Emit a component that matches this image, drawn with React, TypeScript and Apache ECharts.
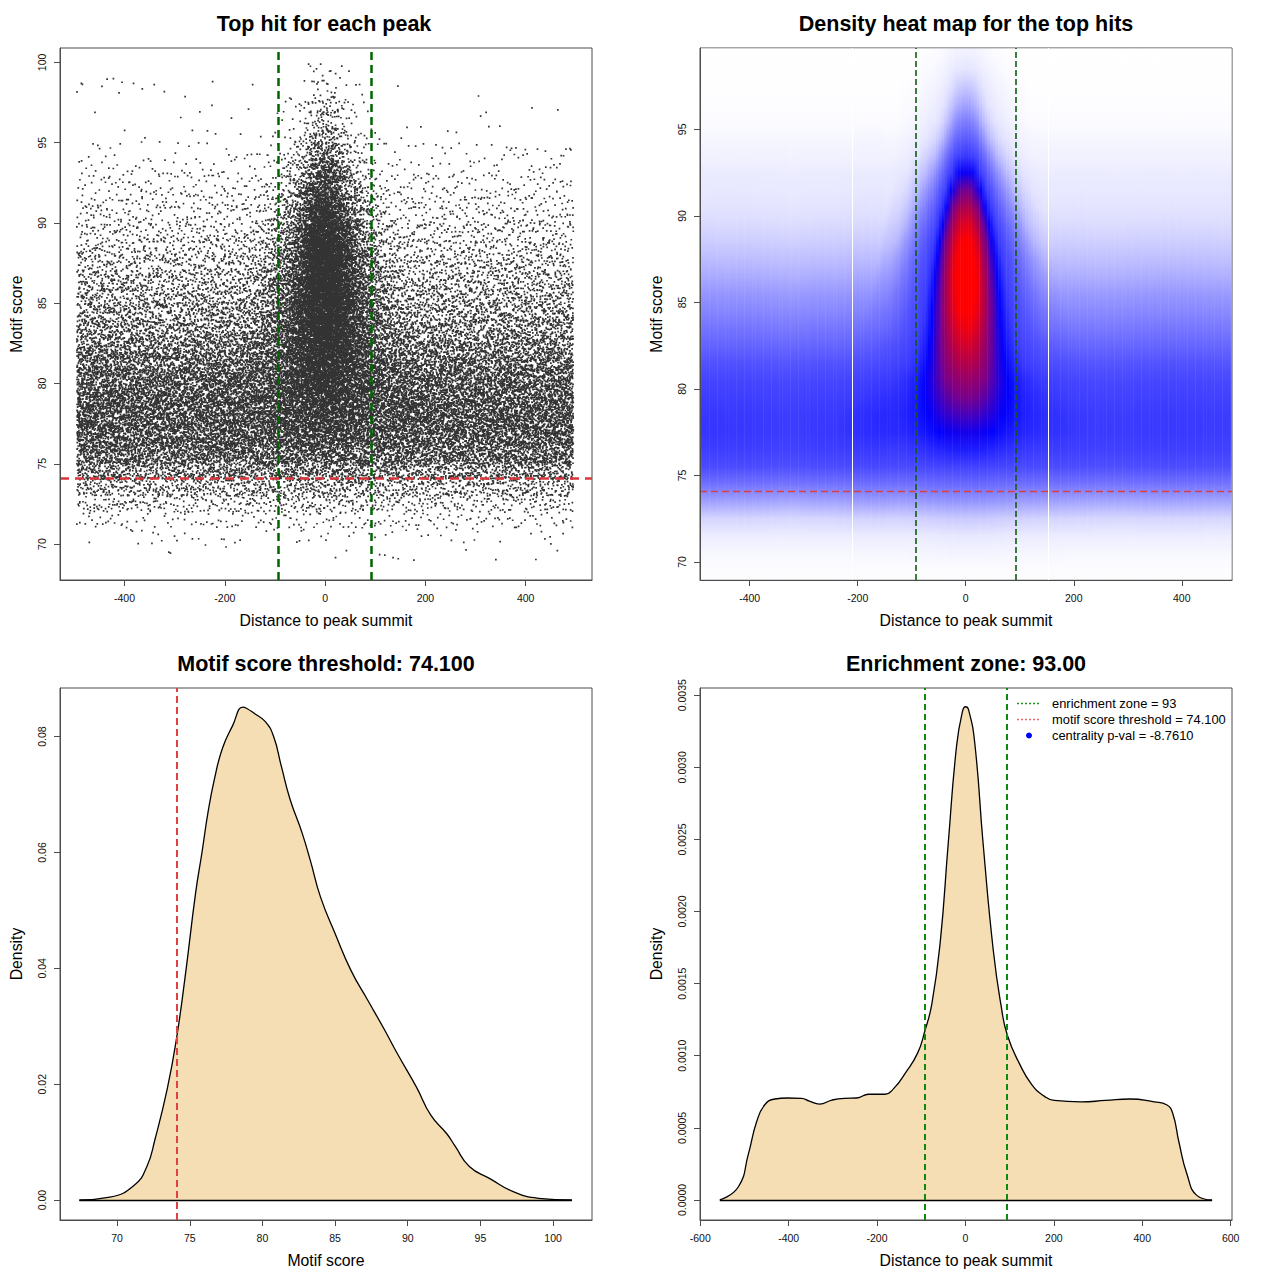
import React, { useEffect, useRef } from "react";
import * as echarts from "echarts";

// ---------------- data ----------------
const ENRICHMENT_ZONE = 93;
const SCORE_THRESHOLD = 74.1;
const TOTAL_PEAKS = 50000;

// Panel 3: density of motif score
const scoreGrid = [67.4, 69.5, 71.2, 72.05, 72.6, 73.45, 74.07, 74.7, 75.4, 75.84, 76.26, 76.7, 77.25, 77.95, 78.65, 78.9, 79.5, 80.2, 80.76, 81.3, 81.9, 82.7, 83.3, 84.0, 85.0, 86.1, 87.2, 88.4, 89.3, 90.6, 91.6, 92.7, 93.26, 94.24, 95.65, 97.3, 99.0, 101.3];
const scoreDensity = [0, 0.0005, 0.0026, 0.0058, 0.0104, 0.0192, 0.0276, 0.0389, 0.053, 0.06, 0.067, 0.0727, 0.078, 0.0819, 0.0851, 0.0849, 0.0839, 0.0826, 0.0801, 0.0749, 0.0692, 0.0636, 0.0586, 0.0523, 0.046, 0.0396, 0.0347, 0.0294, 0.0252, 0.0195, 0.0146, 0.0114, 0.0093, 0.0058, 0.0037, 0.0014, 0.0003, 0];

// Panel 4: density of distance to peak summit
const distanceGrid = [-555.7, -514, -491, -472.6, -454, -431, -403, -371, -353, -330, -302, -274, -246, -219, -182, -163, -136, -108, -92, -76, -57, -39, -20, -6.5, 0, 7, 21, 40, 63, 81, 95, 123, 150, 178, 201, 261, 317, 372, 427, 455, 469, 483, 501, 524, 558];
const distanceDensity = [0, 0.00009, 0.00032, 0.00054, 0.00066, 0.0007, 0.000707, 0.000705, 0.000685, 0.000665, 0.000693, 0.000705, 0.000707, 0.000733, 0.000733, 0.00077, 0.00088, 0.00102, 0.00117, 0.00136, 0.00179, 0.00247, 0.00315, 0.00339, 0.00342, 0.0034, 0.00317, 0.00247, 0.00173, 0.00134, 0.00114, 0.00094, 0.0008, 0.00072, 0.00069, 0.00068, 0.00069, 0.0007, 0.00068, 0.00066, 0.0006, 0.0004, 0.00018, 0.00003, 0];

const scoreBinCenters = [69.5, 70.5, 71.5, 72.5, 73.5, 74.5, 75.5, 76.5, 77.5, 78.5, 79.5, 80.5, 81.5, 82.5, 83.5, 84.5, 85.5, 86.5, 87.5, 88.5, 89.5, 90.5, 91.5, 92.5, 93.5, 94.5, 95.5, 96.5, 97.5, 98.5, 99.5];
const backgroundScoreProfile = [0.0005, 0.0015, 0.005, 0.013, 0.028, 0.049, 0.08, 0.098, 0.105, 0.104, 0.097, 0.088, 0.072, 0.058, 0.046, 0.038, 0.031, 0.025, 0.02, 0.015, 0.0115, 0.009, 0.007, 0.0053, 0.003, 0.0018, 0.0008, 0.0004, 0.0002, 0.0001, 0];
const centralScoreProfile = [0, 0.0005, 0.001, 0.0015, 0.002, 0.003, 0.006, 0.012, 0.021, 0.031, 0.042, 0.053, 0.064, 0.074, 0.082, 0.088, 0.091, 0.091, 0.087, 0.079, 0.067, 0.053, 0.039, 0.027, 0.018, 0.011, 0.007, 0.0045, 0.0028, 0.0014, 0.0006];
const centralWidthByScore = [1.6, 1.6, 1.6, 1.6, 1.6, 1.6, 1.6, 1.6, 1.5, 1.4, 1.3, 1.2, 1.1, 1.03, 0.97, 0.92, 0.88, 0.84, 0.81, 0.78, 0.75, 0.72, 0.7, 0.68, 0.66, 0.64, 0.62, 0.62, 0.62, 0.62, 0.62];
// background level per bp (x 1e-4), bins of 40 bp centred at -480..480
const backgroundDistanceCenters = [-480, -440, -400, -360, -320, -280, -240, -200, -160, -120, -80, -40, 0, 40, 80, 120, 160, 200, 240, 280, 320, 360, 400, 440, 480];
const backgroundDistanceLevel = [7.2, 7.1, 7.1, 6.9, 6.7, 7.0, 7.0, 7.3, 7.3, 7.0, 7.0, 7.0, 7.0, 7.0, 7.0, 7.0, 7.0, 6.9, 6.8, 6.8, 6.9, 7.0, 7.0, 6.9, 6.8];
// central excess per bp (x 1e-4), at -200..200 step 10
const centralDistanceExcess = [0, 0.2, 0.3, 0.4, 0.6, 0.9, 1.3, 1.7, 2.3, 2.9, 3.6, 4.4, 5.6, 7.5, 10.2, 13.5, 17.5, 21.5, 24.5, 26.5, 27.2, 26.7, 24.8, 21.5, 17.5, 13.5, 10.5, 8.0, 6.2, 4.8, 3.8, 3.0, 2.4, 1.8, 1.3, 0.9, 0.6, 0.4, 0.2, 0.1, 0];
const heatArtifactLines = [-211, 153];

// tick values
const p1XTicks = [-400, -200, 0, 200, 400];
const p1YTicks = [70, 75, 80, 85, 90, 95, 100];
const p2XTicks = [-400, -200, 0, 200, 400];
const p2YTicks = [70, 75, 80, 85, 90, 95];
const p3XTicks = [70, 75, 80, 85, 90, 95, 100];
const p3YTicks = [0, 0.02, 0.04, 0.06, 0.08];
const p4XTicks = [-600, -400, -200, 0, 200, 400, 600];
const p4YTicks = [0, 0.0005, 0.001, 0.0015, 0.002, 0.0025, 0.003, 0.0035];

// ---------------- styles ----------------
const FONT = '"Liberation Sans", Arial, Helvetica, sans-serif';
const heatColorStops: [number, number[]][] = [
  [0, [255, 255, 255]],
  [0.004, [246, 246, 255]],
  [0.012, [236, 236, 255]],
  [0.021, [228, 228, 255]],
  [0.035, [206, 206, 255]],
  [0.05, [186, 186, 255]],
  [0.072, [152, 152, 255]],
  [0.11, [116, 116, 255]],
  [0.17, [82, 82, 255]],
  [0.245, [58, 58, 255]],
  [0.34, [0, 0, 255]],
  [0.5, [118, 0, 142]],
  [0.68, [182, 0, 70]],
  [0.8, [226, 0, 30]],
  [0.9, [255, 0, 0]],
  [1, [255, 0, 0]],
];
const CELL_WIDTH = 5; // bp per rendered column

const P1X: [number, number] = [-528.6, 532.2];
const P1Y: [number, number] = [67.76, 100.9];
const P2X: [number, number] = [-492, 493];
const P2Y: [number, number] = [68.96, 99.7];
const P3X: [number, number] = [66.07, 102.68];
const P3Y: [number, number] = [-0.00345, 0.0884];
const P4X: [number, number] = [-600.5, 603];
const P4Y: [number, number] = [-0.000139, 0.00355];

// ---------------- density table ----------------
const sumBg = backgroundScoreProfile.reduce((a, b) => a + b, 0);
const sumC = centralScoreProfile.reduce((a, b) => a + b, 0);

function tableAt(xs: number[], ys: number[], x: number) {
  if (x <= xs[0]) return ys[0];
  if (x >= xs[xs.length - 1]) return ys[ys.length - 1];
  let i = 0;
  while (xs[i + 1] < x) i++;
  const t = (x - xs[i]) / (xs[i + 1] - xs[i]);
  return ys[i] * (1 - t) + ys[i + 1] * t;
}
function backgroundLevelAt(x: number) {
  return tableAt(backgroundDistanceCenters, backgroundDistanceLevel, x) * 1e-4;
}
function centralAt(x: number) {
  if (x < -200 || x > 200) return 0;
  const f = (x + 200) / 10;
  const i = Math.floor(f);
  if (i >= centralDistanceExcess.length - 1) return centralDistanceExcess[centralDistanceExcess.length - 1] * 1e-4;
  const t = f - i;
  return (centralDistanceExcess[i] * (1 - t) + centralDistanceExcess[i + 1] * t) * 1e-4;
}
function jointDensity(x: number, j: number) {
  const w = centralWidthByScore[j];
  return (
    (backgroundLevelAt(x) * backgroundScoreProfile[j]) / sumBg +
    ((centralAt(x / w) / w) * centralScoreProfile[j]) / sumC
  );
}

const columnCenters: number[] = [];
for (let x = -495 + CELL_WIDTH / 2; x < 495; x += CELL_WIDTH) columnCenters.push(x);

const densityTable: number[][] = columnCenters.map((x) => scoreBinCenters.map((_, j) => jointDensity(x, j)));
let densityMax = 0;
densityTable.forEach((col) => col.forEach((d) => (densityMax = Math.max(densityMax, d))));

function heatColor(r: number) {
  r = Math.max(0, Math.min(1, r));
  for (let k = 1; k < heatColorStops.length; k++) {
    const [o1, c1] = heatColorStops[k];
    const [o0, c0] = heatColorStops[k - 1];
    if (r <= o1) {
      const t = (r - o0) / (o1 - o0);
      const c = c0.map((v, q) => Math.round(v + (c1[q] - v) * t));
      return `rgb(${c[0]},${c[1]},${c[2]})`;
    }
  }
  return "rgb(255,0,0)";
}

const heatColumnStops = densityTable.map((col) => {
  const stops: { offset: number; color: string }[] = [];
  const span = P2Y[1] - P2Y[0];
  for (let j = scoreBinCenters.length - 1; j >= 0; j--) {
    const off = (P2Y[1] - scoreBinCenters[j]) / span;
    stops.push({ offset: Math.max(0, Math.min(1, off)), color: heatColor(col[j] / densityMax) });
  }
  stops.unshift({ offset: 0, color: stops[0].color });
  stops.push({ offset: 1, color: stops[stops.length - 1].color });
  return stops;
});

// position of a dot inside its cell (deterministic hash)
function cellJitter(n: number) {
  let h = Math.imul(n ^ 0x9e3779b9, 0x85ebca6b);
  h ^= h >>> 13;
  h = Math.imul(h, 0xc2b2ae35);
  h ^= h >>> 16;
  return (h >>> 0) / 4294967296;
}

// scatter dots: counts per cell come from the density table
const scatterPoints: number[][] = [];
{
  let carry = 0;
  let k = 0;
  columnCenters.forEach((xc, i) => {
    scoreBinCenters.forEach((yc, j) => {
      const expected = TOTAL_PEAKS * densityTable[i][j] * CELL_WIDTH + carry;
      const n = Math.floor(expected);
      carry = expected - n;
      for (let q = 0; q < n; q++) {
        k++;
        scatterPoints.push([xc - CELL_WIDTH / 2 + CELL_WIDTH * cellJitter(2 * k), yc - 0.5 + cellJitter(2 * k + 1)]);
      }
    });
  });
}

// ---------------- helpers ----------------
function xAxisCfg(gridIndex: number, range: [number, number], ticks: number[], name: string, fmt?: (v: number) => string) {
  return {
    type: "value",
    gridIndex,
    min: range[0],
    max: range[1],
    z: 10,
    axisLine: { show: true, onZero: false, lineStyle: { color: "#4d4d4d", width: 1 } },
    splitLine: { show: false },
    axisTick: { show: true, inside: false, length: 6, customValues: ticks, lineStyle: { color: "#4d4d4d" } },
    axisLabel: {
      customValues: ticks,
      formatter: fmt || ((v: number) => String(v)),
      fontSize: 10.5,
      fontFamily: FONT,
      color: "#111",
      margin: 12,
    },
    name,
    nameLocation: "middle",
    nameGap: 32,
    nameTextStyle: { fontSize: 15.8, fontFamily: FONT, color: "#000" },
  };
}
function yAxisCfg(gridIndex: number, range: [number, number], ticks: number[], name: string, fmt?: (v: number) => string) {
  return {
    type: "value",
    gridIndex,
    min: range[0],
    max: range[1],
    z: 10,
    axisLine: { show: true, onZero: false, lineStyle: { color: "#4d4d4d", width: 1 } },
    splitLine: { show: false },
    axisTick: { show: true, inside: false, length: 6, customValues: ticks, lineStyle: { color: "#4d4d4d" } },
    axisLabel: {
      customValues: ticks,
      formatter: fmt || ((v: number) => String(v)),
      fontSize: 10.5,
      fontFamily: FONT,
      color: "#111",
      margin: 13,
      rotate: 90,
    },
    name,
    nameLocation: "middle",
    nameGap: 36,
    nameTextStyle: { fontSize: 15.8, fontFamily: FONT, color: "#000" },
  };
}
function vLine(x: number, color: string, width: number, dash: any) {
  return { xAxis: x, lineStyle: { color, width, type: dash } };
}
function hLine(y: number, color: string, width: number, dash: any) {
  return { yAxis: y, lineStyle: { color, width, type: dash } };
}
function markLines(data: any[]) {
  return {
    silent: true,
    symbol: ["none", "none"],
    label: { show: false },
    emphasis: { disabled: true },
    data,
  };
}

function buildOption() {
  const gridBox = { show: true, borderColor: "#4d4d4d", borderWidth: 1, backgroundColor: "transparent", outerBoundsMode: "none" };
  const titles = [
    { text: "Top hit for each peak", x: 324, y: 24 },
    { text: "Density heat map for the top hits", x: 966, y: 24 },
    { text: "Motif score threshold: 74.100", x: 326, y: 664 },
    { text: "Enrichment zone: 93.00", x: 966, y: 664 },
  ];
  const legendRows = [
    { text: "enrichment zone = 93", y: 703.5 },
    { text: "motif score threshold = 74.100", y: 719.5 },
    { text: "centrality p-val = -8.7610", y: 735.5 },
  ];
  return {
    animation: false,
    backgroundColor: "#ffffff",
    grid: [
      { left: 60, top: 48, width: 532, height: 532, ...gridBox },
      { left: 700, top: 48, width: 532, height: 532, ...gridBox },
      { left: 60, top: 688, width: 532, height: 532, ...gridBox },
      { left: 700, top: 688, width: 532, height: 532, ...gridBox },
    ],
    xAxis: [
      xAxisCfg(0, P1X, p1XTicks, "Distance to peak summit"),
      xAxisCfg(1, P2X, p2XTicks, "Distance to peak summit"),
      xAxisCfg(2, P3X, p3XTicks, "Motif score"),
      xAxisCfg(3, P4X, p4XTicks, "Distance to peak summit"),
    ],
    yAxis: [
      yAxisCfg(0, P1Y, p1YTicks, "Motif score"),
      yAxisCfg(1, P2Y, p2YTicks, "Motif score"),
      yAxisCfg(2, P3Y, p3YTicks, "Density", (v: number) => v.toFixed(2)),
      yAxisCfg(3, P4Y, p4YTicks, "Density", (v: number) => v.toFixed(4)),
    ],
    graphic: [
      ...titles.map((t) => ({
        type: "text",
        x: t.x,
        y: t.y,
        style: { text: t.text, font: `bold 21.5px ${FONT}`, fill: "#000", align: "center", verticalAlign: "middle" },
      })),
      {
        type: "line",
        shape: { x1: 1017, y1: legendRows[0].y, x2: 1041, y2: legendRows[0].y },
        style: { stroke: "#1E9A1E", lineWidth: 1.4, lineDash: [2, 2] },
      },
      {
        type: "line",
        shape: { x1: 1017, y1: legendRows[1].y, x2: 1041, y2: legendRows[1].y },
        style: { stroke: "#F06868", lineWidth: 1.4, lineDash: [2, 2] },
      },
      {
        type: "circle",
        shape: { cx: 1029, cy: legendRows[2].y, r: 3 },
        style: { fill: "#0000FF" },
      },
      ...legendRows.map((r) => ({
        type: "text",
        x: 1052,
        y: r.y,
        style: { text: r.text, font: `12.9px ${FONT}`, fill: "#000", align: "left", verticalAlign: "middle" },
      })),
    ],
    series: [
      // Panel 1: scatter
      {
        type: "scatter",
        xAxisIndex: 0,
        yAxisIndex: 0,
        data: scatterPoints,
        symbol: "rect",
        symbolSize: 1.7,
        large: true,
        largeThreshold: 1000,
        progressive: 0,
        itemStyle: { color: "#000" },
        silent: true,
        z: 2,
      },
      {
        type: "line",
        xAxisIndex: 0,
        yAxisIndex: 0,
        data: [],
        z: 5,
        markLine: markLines([
          vLine(-ENRICHMENT_ZONE, "#006400", 2.5, [8, 5]),
          vLine(ENRICHMENT_ZONE, "#006400", 2.5, [8, 5]),
          hLine(SCORE_THRESHOLD, "#D9363E", 2.5, [9, 6]),
        ]),
      },
      // Panel 2: heat map
      {
        type: "custom",
        xAxisIndex: 1,
        yAxisIndex: 1,
        silent: true,
        data: columnCenters.map((x, i) => [x, 84, i]),
        encode: { x: 0, y: 1 },
        renderItem: (params: any, api: any) => {
          const i = params.dataIndex;
          const cs = params.coordSys;
          const L = cs.x + 0.5;
          const R = cs.x + cs.width - 0.5;
          const T = cs.y + 0.5;
          const B = cs.y + cs.height - 0.5;
          const xc = columnCenters[i];
          const x0 = Math.max(L, api.coord([xc - CELL_WIDTH / 2, P2Y[0]])[0]);
          const x1 = Math.min(R, api.coord([xc + CELL_WIDTH / 2, P2Y[0]])[0] + 0.5);
          return {
            type: "rect",
            shape: { x: x0, y: T, width: Math.max(0, x1 - x0), height: B - T },
            style: { fill: new echarts.graphic.LinearGradient(0, 0, 0, 1, heatColumnStops[i]) },
            silent: true,
          };
        },
        z: 2,
      },
      {
        type: "line",
        xAxisIndex: 1,
        yAxisIndex: 1,
        data: [],
        z: 5,
        markLine: markLines([
          ...heatArtifactLines.map((x) => vLine(x, "#ffffff", 1, "solid")),
          vLine(-ENRICHMENT_ZONE, "#0E5E0E", 1.6, [6, 3]),
          vLine(ENRICHMENT_ZONE, "#0E5E0E", 1.6, [6, 3]),
          hLine(SCORE_THRESHOLD, "#D94040", 1.3, [7, 4]),
        ]),
      },
      // Panel 3: motif score density
      {
        type: "line",
        xAxisIndex: 2,
        yAxisIndex: 2,
        data: scoreGrid.map((x, i) => [x, scoreDensity[i]]),
        smooth: 0.5,
        showSymbol: false,
        lineStyle: { color: "#000", width: 1.3 },
        areaStyle: { color: "#F5DEB3", opacity: 1, origin: 0 },
        z: 2,
        markLine: markLines([
          [
            { coord: [scoreGrid[0], 0], lineStyle: { color: "#000", width: 1.3, type: "solid" } },
            { coord: [scoreGrid[scoreGrid.length - 1], 0] },
          ],
          vLine(SCORE_THRESHOLD, "#E04040", 2, [7, 4]),
        ]),
      },
      // Panel 4: distance density
      {
        type: "line",
        xAxisIndex: 3,
        yAxisIndex: 3,
        data: distanceGrid.map((x, i) => [x, distanceDensity[i]]),
        smooth: 0.5,
        showSymbol: false,
        lineStyle: { color: "#000", width: 1.3 },
        areaStyle: { color: "#F5DEB3", opacity: 1, origin: 0 },
        z: 2,
        markLine: markLines([
          [
            { coord: [distanceGrid[0], 0], lineStyle: { color: "#000", width: 1.3, type: "solid" } },
            { coord: [distanceGrid[distanceGrid.length - 1], 0] },
          ],
          vLine(-ENRICHMENT_ZONE, "#0B8A0B", 2, [6, 4]),
          vLine(ENRICHMENT_ZONE, "#0B8A0B", 2, [6, 4]),
        ]),
      },
    ],
  };
}

export default function App() {
  const ref = useRef<HTMLDivElement>(null);
  useEffect(() => {
    if (!ref.current) return;
    const chart = echarts.init(ref.current, undefined, { renderer: "svg" });
    chart.setOption(buildOption() as any);
    return () => chart.dispose();
  }, []);
  return (
    <div
      ref={ref}
      style={{ position: "absolute", left: 0, top: 0, width: 1280, height: 1280, background: "#fff" }}
    />
  );
}
